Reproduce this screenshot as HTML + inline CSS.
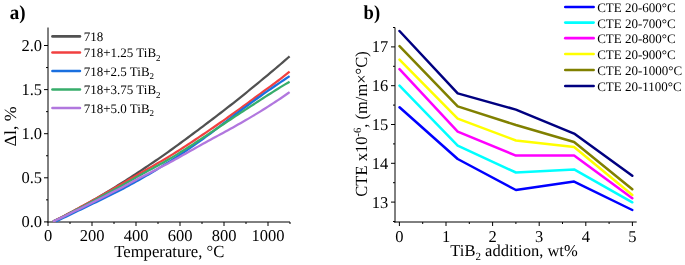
<!DOCTYPE html>
<html><head><meta charset="utf-8"><style>
html,body{margin:0;padding:0;background:#fff;}
body{width:685px;height:265px;overflow:hidden;}
svg{display:block;will-change:transform;}
text{font-family:"Liberation Serif",serif;fill:#000;text-rendering:geometricPrecision;}
.tk{font-size:16.5px;}
.lg{font-size:13.0px;}
.sb{font-size:9px;}
.sb2{font-size:11px;}
.sp{font-size:11px;}
.tt{font-size:17.0px;}
.tt2{font-size:16.5px;}
.tt3{font-size:17px;}
.pl{font-size:20px;font-weight:bold;}
</style></head><body>
<svg width="685" height="265" viewBox="0 0 685 265">
<rect width="685" height="265" fill="#fff"/>
<line x1="48.0" y1="27.5" x2="48.0" y2="222.5" stroke="#000" stroke-width="1"/>
<line x1="47.5" y1="222.0" x2="290.0" y2="222.0" stroke="#000" stroke-width="1"/>
<line x1="44.0" y1="221.90" x2="48.0" y2="221.90" stroke="#000" stroke-width="1"/>
<text transform="translate(42.00,227.40)" text-anchor="end" class="tk">0.0</text>
<line x1="46.0" y1="199.85" x2="48.0" y2="199.85" stroke="#000" stroke-width="1"/>
<line x1="44.0" y1="177.80" x2="48.0" y2="177.80" stroke="#000" stroke-width="1"/>
<text transform="translate(42.00,183.30)" text-anchor="end" class="tk">0.5</text>
<line x1="46.0" y1="155.75" x2="48.0" y2="155.75" stroke="#000" stroke-width="1"/>
<line x1="44.0" y1="133.70" x2="48.0" y2="133.70" stroke="#000" stroke-width="1"/>
<text transform="translate(42.00,139.20)" text-anchor="end" class="tk">1.0</text>
<line x1="46.0" y1="111.65" x2="48.0" y2="111.65" stroke="#000" stroke-width="1"/>
<line x1="44.0" y1="89.60" x2="48.0" y2="89.60" stroke="#000" stroke-width="1"/>
<text transform="translate(42.00,95.10)" text-anchor="end" class="tk">1.5</text>
<line x1="46.0" y1="67.55" x2="48.0" y2="67.55" stroke="#000" stroke-width="1"/>
<line x1="44.0" y1="45.50" x2="48.0" y2="45.50" stroke="#000" stroke-width="1"/>
<text transform="translate(42.00,51.00)" text-anchor="end" class="tk">2.0</text>
<line x1="48.00" y1="222.0" x2="48.00" y2="226.0" stroke="#000" stroke-width="1"/>
<text transform="translate(48.00,241.40)" text-anchor="middle" class="tk">0</text>
<line x1="70.00" y1="222.0" x2="70.00" y2="224.0" stroke="#000" stroke-width="1"/>
<line x1="92.00" y1="222.0" x2="92.00" y2="226.0" stroke="#000" stroke-width="1"/>
<text transform="translate(92.00,241.40)" text-anchor="middle" class="tk">200</text>
<line x1="114.00" y1="222.0" x2="114.00" y2="224.0" stroke="#000" stroke-width="1"/>
<line x1="136.00" y1="222.0" x2="136.00" y2="226.0" stroke="#000" stroke-width="1"/>
<text transform="translate(136.00,241.40)" text-anchor="middle" class="tk">400</text>
<line x1="158.00" y1="222.0" x2="158.00" y2="224.0" stroke="#000" stroke-width="1"/>
<line x1="180.00" y1="222.0" x2="180.00" y2="226.0" stroke="#000" stroke-width="1"/>
<text transform="translate(180.00,241.40)" text-anchor="middle" class="tk">600</text>
<line x1="202.00" y1="222.0" x2="202.00" y2="224.0" stroke="#000" stroke-width="1"/>
<line x1="224.00" y1="222.0" x2="224.00" y2="226.0" stroke="#000" stroke-width="1"/>
<text transform="translate(224.00,241.40)" text-anchor="middle" class="tk">800</text>
<line x1="246.00" y1="222.0" x2="246.00" y2="224.0" stroke="#000" stroke-width="1"/>
<line x1="268.00" y1="222.0" x2="268.00" y2="226.0" stroke="#000" stroke-width="1"/>
<text transform="translate(268.00,241.40)" text-anchor="middle" class="tk">1000</text>
<line x1="290.00" y1="222.0" x2="290.00" y2="224.0" stroke="#000" stroke-width="1"/>
<polyline points="53.0,221.50 55.5,220.32 58.0,219.13 60.5,217.90 63.0,216.64 65.5,215.35 68.0,214.04 70.5,212.71 73.0,211.37 75.5,210.03 78.0,208.68 80.5,207.32 83.0,205.95 85.5,204.56 88.0,203.16 90.5,201.74 93.0,200.32 95.5,198.87 98.0,197.42 100.5,195.95 103.0,194.46 105.5,192.97 108.0,191.46 110.5,189.94 113.0,188.40 115.5,186.86 118.0,185.30 120.5,183.74 123.0,182.16 125.5,180.58 128.0,178.98 130.5,177.38 133.0,175.77 135.5,174.14 138.0,172.51 140.5,170.87 143.0,169.21 145.5,167.55 148.0,165.88 150.5,164.19 153.0,162.50 155.5,160.79 158.0,159.07 160.5,157.33 163.0,155.59 165.5,153.83 168.0,152.06 170.5,150.27 173.0,148.48 175.5,146.67 178.0,144.85 180.5,143.02 183.0,141.19 185.5,139.34 188.0,137.49 190.5,135.64 193.0,133.77 195.5,131.91 198.0,130.04 200.5,128.16 203.0,126.28 205.5,124.40 208.0,122.52 210.5,120.63 213.0,118.73 215.5,116.83 218.0,114.92 220.5,113.00 223.0,111.08 225.5,109.15 228.0,107.20 230.5,105.25 233.0,103.28 235.5,101.30 238.0,99.31 240.5,97.31 243.0,95.30 245.5,93.28 248.0,91.25 250.5,89.21 253.0,87.17 255.5,85.11 258.0,83.06 260.5,81.00 263.0,78.93 265.5,76.86 268.0,74.79 270.5,72.70 273.0,70.61 275.5,68.50 278.0,66.39 280.5,64.25 283.0,62.10 285.5,59.92 288.0,57.73 289.6,56.32" fill="none" stroke="#515151" stroke-width="2.25" stroke-linejoin="round"/>
<polyline points="53.0,221.51 55.5,220.29 58.0,219.05 60.5,217.80 63.0,216.51 65.5,215.18 68.0,213.84 70.5,212.48 73.0,211.13 75.5,209.79 78.0,208.45 80.5,207.10 83.0,205.75 85.5,204.39 88.0,203.03 90.5,201.66 93.0,200.28 95.5,198.90 98.0,197.50 100.5,196.10 103.0,194.69 105.5,193.27 108.0,191.85 110.5,190.42 113.0,188.98 115.5,187.54 118.0,186.09 120.5,184.64 123.0,183.18 125.5,181.72 128.0,180.27 130.5,178.81 133.0,177.36 135.5,175.91 138.0,174.47 140.5,173.04 143.0,171.62 145.5,170.20 148.0,168.79 150.5,167.37 153.0,165.95 155.5,164.53 158.0,163.09 160.5,161.64 163.0,160.18 165.5,158.69 168.0,157.19 170.5,155.66 173.0,154.11 175.5,152.55 178.0,150.97 180.5,149.37 183.0,147.76 185.5,146.13 188.0,144.49 190.5,142.85 193.0,141.19 195.5,139.53 198.0,137.85 200.5,136.18 203.0,134.49 205.5,132.81 208.0,131.11 210.5,129.41 213.0,127.71 215.5,125.99 218.0,124.27 220.5,122.54 223.0,120.80 225.5,119.05 228.0,117.29 230.5,115.51 233.0,113.73 235.5,111.93 238.0,110.13 240.5,108.31 243.0,106.48 245.5,104.65 248.0,102.81 250.5,100.97 253.0,99.12 255.5,97.28 258.0,95.44 260.5,93.61 263.0,91.78 265.5,89.96 268.0,88.14 270.5,86.31 273.0,84.47 275.5,82.62 278.0,80.74 280.5,78.84 283.0,76.90 285.5,74.93 288.0,72.92 289.6,71.62" fill="none" stroke="#F14040" stroke-width="2.25" stroke-linejoin="round"/>
<polyline points="56.0,221.50 58.5,220.28 61.0,219.06 63.5,217.84 66.0,216.62 68.5,215.40 71.0,214.19 73.5,212.98 76.0,211.78 78.5,210.57 81.0,209.37 83.5,208.17 86.0,206.97 88.5,205.77 91.0,204.56 93.5,203.35 96.0,202.14 98.5,200.93 101.0,199.71 103.5,198.49 106.0,197.27 108.5,196.03 111.0,194.79 113.5,193.54 116.0,192.27 118.5,190.99 121.0,189.70 123.5,188.39 126.0,187.06 128.5,185.72 131.0,184.36 133.5,182.98 136.0,181.59 138.5,180.19 141.0,178.77 143.5,177.33 146.0,175.88 148.5,174.41 151.0,172.93 153.5,171.44 156.0,169.93 158.5,168.41 161.0,166.87 163.5,165.33 166.0,163.77 168.5,162.20 171.0,160.62 173.5,159.03 176.0,157.42 178.5,155.79 181.0,154.15 183.5,152.49 186.0,150.82 188.5,149.12 191.0,147.41 193.5,145.68 196.0,143.92 198.5,142.15 201.0,140.35 203.5,138.53 206.0,136.70 208.5,134.84 211.0,132.98 213.5,131.10 216.0,129.20 218.5,127.31 221.0,125.40 223.5,123.49 226.0,121.59 228.5,119.68 231.0,117.78 233.5,115.88 236.0,113.99 238.5,112.12 241.0,110.25 243.5,108.39 246.0,106.55 248.5,104.72 251.0,102.89 253.5,101.08 256.0,99.28 258.5,97.49 261.0,95.71 263.5,93.95 266.0,92.19 268.5,90.45 271.0,88.72 273.5,87.00 276.0,85.29 278.5,83.58 281.0,81.89 283.5,80.21 286.0,78.53 288.5,76.87 289.6,76.15" fill="none" stroke="#1A6FDF" stroke-width="2.25" stroke-linejoin="round"/>
<polyline points="53.0,221.51 55.5,220.35 58.0,219.17 60.5,217.98 63.0,216.73 65.5,215.46 68.0,214.16 70.5,212.87 73.0,211.61 75.5,210.36 78.0,209.12 80.5,207.85 83.0,206.55 85.5,205.22 88.0,203.86 90.5,202.49 93.0,201.12 95.5,199.74 98.0,198.36 100.5,197.00 103.0,195.66 105.5,194.33 108.0,193.01 110.5,191.68 113.0,190.35 115.5,189.02 118.0,187.67 120.5,186.29 123.0,184.90 125.5,183.49 128.0,182.06 130.5,180.63 133.0,179.20 135.5,177.77 138.0,176.36 140.5,174.96 143.0,173.58 145.5,172.21 148.0,170.86 150.5,169.51 153.0,168.17 155.5,166.81 158.0,165.46 160.5,164.08 163.0,162.69 165.5,161.28 168.0,159.84 170.5,158.38 173.0,156.89 175.5,155.38 178.0,153.85 180.5,152.30 183.0,150.73 185.5,149.15 188.0,147.55 190.5,145.94 193.0,144.32 195.5,142.69 198.0,141.05 200.5,139.40 203.0,137.75 205.5,136.10 208.0,134.44 210.5,132.77 213.0,131.11 215.5,129.44 218.0,127.78 220.5,126.11 223.0,124.44 225.5,122.78 228.0,121.12 230.5,119.46 233.0,117.80 235.5,116.15 238.0,114.51 240.5,112.87 243.0,111.23 245.5,109.60 248.0,107.97 250.5,106.35 253.0,104.73 255.5,103.11 258.0,101.49 260.5,99.87 263.0,98.25 265.5,96.64 268.0,95.03 270.5,93.43 273.0,91.84 275.5,90.26 278.0,88.70 280.5,87.15 283.0,85.63 285.5,84.13 288.0,82.66 289.6,81.73" fill="none" stroke="#37AD6B" stroke-width="2.25" stroke-linejoin="round"/>
<polyline points="53.0,221.50 55.5,220.40 58.0,219.29 60.5,218.14 63.0,216.97 65.5,215.76 68.0,214.53 70.5,213.29 73.0,212.07 75.5,210.86 78.0,209.64 80.5,208.42 83.0,207.19 85.5,205.95 88.0,204.70 90.5,203.44 93.0,202.18 95.5,200.92 98.0,199.65 100.5,198.39 103.0,197.14 105.5,195.88 108.0,194.63 110.5,193.36 113.0,192.10 115.5,190.82 118.0,189.53 120.5,188.22 123.0,186.90 125.5,185.56 128.0,184.22 130.5,182.87 133.0,181.53 135.5,180.19 138.0,178.86 140.5,177.55 143.0,176.25 145.5,174.97 148.0,173.70 150.5,172.43 153.0,171.16 155.5,169.90 158.0,168.63 160.5,167.34 163.0,166.05 165.5,164.73 168.0,163.40 170.5,162.05 173.0,160.68 175.5,159.30 178.0,157.90 180.5,156.50 183.0,155.09 185.5,153.68 188.0,152.26 190.5,150.85 193.0,149.43 195.5,148.02 198.0,146.61 200.5,145.22 203.0,143.83 205.5,142.45 208.0,141.08 210.5,139.71 213.0,138.34 215.5,136.98 218.0,135.62 220.5,134.26 223.0,132.90 225.5,131.53 228.0,130.16 230.5,128.78 233.0,127.40 235.5,126.00 238.0,124.60 240.5,123.18 243.0,121.75 245.5,120.31 248.0,118.85 250.5,117.38 253.0,115.90 255.5,114.40 258.0,112.88 260.5,111.35 263.0,109.81 265.5,108.24 268.0,106.66 270.5,105.06 273.0,103.43 275.5,101.79 278.0,100.13 280.5,98.45 283.0,96.74 285.5,95.02 288.0,93.27 289.6,92.14" fill="none" stroke="#B177DE" stroke-width="2.25" stroke-linejoin="round"/>
<line x1="52.5" y1="36.4" x2="79.9" y2="36.4" stroke="#515151" stroke-width="2.7" stroke-linecap="round"/>
<text transform="translate(83.70,41.00)" class="lg">718</text>
<line x1="52.5" y1="52.5" x2="79.9" y2="52.5" stroke="#F14040" stroke-width="2.7" stroke-linecap="round"/>
<text transform="translate(83.70,57.10)" class="lg">718+1.25 TiB<tspan dy="3.5" class="sb">2</tspan></text>
<line x1="52.5" y1="71.0" x2="79.9" y2="71.0" stroke="#1A6FDF" stroke-width="2.7" stroke-linecap="round"/>
<text transform="translate(83.70,75.60)" class="lg">718+2.5 TiB<tspan dy="3.5" class="sb">2</tspan></text>
<line x1="52.5" y1="89.5" x2="79.9" y2="89.5" stroke="#37AD6B" stroke-width="2.7" stroke-linecap="round"/>
<text transform="translate(83.70,94.10)" class="lg">718+3.75 TiB<tspan dy="3.5" class="sb">2</tspan></text>
<line x1="52.5" y1="108.0" x2="79.9" y2="108.0" stroke="#B177DE" stroke-width="2.7" stroke-linecap="round"/>
<text transform="translate(83.70,112.60)" class="lg">718+5.0 TiB<tspan dy="3.5" class="sb">2</tspan></text>
<text transform="translate(9.80,19.20) scale(0.95,1.0)" class="pl">a)</text>
<text transform="translate(169.30,257.30) scale(0.981,1.0)" text-anchor="middle" class="tt">Temperature, °C</text>
<text transform="translate(15.60,126.40) rotate(-90) scale(1.05,1.0)" text-anchor="middle" class="tt">Δl, %</text>
<line x1="395.0" y1="27.5" x2="395.0" y2="222.5" stroke="#000" stroke-width="1"/>
<line x1="394.0" y1="222.0" x2="636.7" y2="222.0" stroke="#000" stroke-width="1"/>
<line x1="393.0" y1="221.50" x2="395.0" y2="221.50" stroke="#000" stroke-width="1"/>
<line x1="391.0" y1="202.10" x2="395.0" y2="202.10" stroke="#000" stroke-width="1"/>
<text transform="translate(388.30,207.60)" text-anchor="end" class="tk">13</text>
<line x1="393.0" y1="182.70" x2="395.0" y2="182.70" stroke="#000" stroke-width="1"/>
<line x1="391.0" y1="163.30" x2="395.0" y2="163.30" stroke="#000" stroke-width="1"/>
<text transform="translate(388.30,168.80)" text-anchor="end" class="tk">14</text>
<line x1="393.0" y1="143.90" x2="395.0" y2="143.90" stroke="#000" stroke-width="1"/>
<line x1="391.0" y1="124.50" x2="395.0" y2="124.50" stroke="#000" stroke-width="1"/>
<text transform="translate(388.30,130.00)" text-anchor="end" class="tk">15</text>
<line x1="393.0" y1="105.10" x2="395.0" y2="105.10" stroke="#000" stroke-width="1"/>
<line x1="391.0" y1="85.70" x2="395.0" y2="85.70" stroke="#000" stroke-width="1"/>
<text transform="translate(388.30,91.20)" text-anchor="end" class="tk">16</text>
<line x1="393.0" y1="66.30" x2="395.0" y2="66.30" stroke="#000" stroke-width="1"/>
<line x1="391.0" y1="46.90" x2="395.0" y2="46.90" stroke="#000" stroke-width="1"/>
<text transform="translate(388.30,52.40)" text-anchor="end" class="tk">17</text>
<line x1="393.0" y1="27.50" x2="395.0" y2="27.50" stroke="#000" stroke-width="1"/>
<line x1="399.40" y1="222.0" x2="399.40" y2="226.0" stroke="#000" stroke-width="1"/>
<text transform="translate(399.40,241.50)" text-anchor="middle" class="tk">0</text>
<line x1="422.70" y1="222.0" x2="422.70" y2="224.0" stroke="#000" stroke-width="1"/>
<line x1="446.00" y1="222.0" x2="446.00" y2="226.0" stroke="#000" stroke-width="1"/>
<text transform="translate(446.00,241.50)" text-anchor="middle" class="tk">1</text>
<line x1="469.30" y1="222.0" x2="469.30" y2="224.0" stroke="#000" stroke-width="1"/>
<line x1="492.60" y1="222.0" x2="492.60" y2="226.0" stroke="#000" stroke-width="1"/>
<text transform="translate(492.60,241.50)" text-anchor="middle" class="tk">2</text>
<line x1="515.90" y1="222.0" x2="515.90" y2="224.0" stroke="#000" stroke-width="1"/>
<line x1="539.20" y1="222.0" x2="539.20" y2="226.0" stroke="#000" stroke-width="1"/>
<text transform="translate(539.20,241.50)" text-anchor="middle" class="tk">3</text>
<line x1="562.50" y1="222.0" x2="562.50" y2="224.0" stroke="#000" stroke-width="1"/>
<line x1="585.80" y1="222.0" x2="585.80" y2="226.0" stroke="#000" stroke-width="1"/>
<text transform="translate(585.80,241.50)" text-anchor="middle" class="tk">4</text>
<line x1="609.10" y1="222.0" x2="609.10" y2="224.0" stroke="#000" stroke-width="1"/>
<line x1="632.40" y1="222.0" x2="632.40" y2="226.0" stroke="#000" stroke-width="1"/>
<text transform="translate(632.40,241.50)" text-anchor="middle" class="tk">5</text>
<polyline points="399.5,107.3 457.7,159 515.9,190 574.1,181.6 632.3,210.0" fill="none" stroke="#0000FF" stroke-width="2.5" stroke-linejoin="round" stroke-linecap="round"/>
<polyline points="399.5,85.6 457.7,145.6 515.9,172.5 574.1,169.4 632.3,202.3" fill="none" stroke="#00FFFF" stroke-width="2.5" stroke-linejoin="round" stroke-linecap="round"/>
<polyline points="399.5,69.2 457.7,131.6 515.9,155.6 574.1,155.6 632.3,198.2" fill="none" stroke="#FF00FF" stroke-width="2.5" stroke-linejoin="round" stroke-linecap="round"/>
<polyline points="399.5,59.6 457.7,118.6 515.9,140.5 574.1,147 632.3,195.0" fill="none" stroke="#FFFF00" stroke-width="2.5" stroke-linejoin="round" stroke-linecap="round"/>
<polyline points="399.5,46.1 457.7,106.4 515.9,125 574.1,142 632.3,189.3" fill="none" stroke="#808000" stroke-width="2.5" stroke-linejoin="round" stroke-linecap="round"/>
<polyline points="399.5,31.0 457.7,93.4 515.9,109.6 574.1,133.6 632.3,175.8" fill="none" stroke="#000080" stroke-width="2.5" stroke-linejoin="round" stroke-linecap="round"/>
<line x1="565.3" y1="7.0" x2="593.6" y2="7.0" stroke="#0000FF" stroke-width="2.7" stroke-linecap="round"/>
<text transform="translate(597.20,11.90)" class="lg">CTE 20-600°C</text>
<line x1="565.3" y1="22.6" x2="593.6" y2="22.6" stroke="#00FFFF" stroke-width="2.7" stroke-linecap="round"/>
<text transform="translate(597.20,27.50)" class="lg">CTE 20-700°C</text>
<line x1="565.3" y1="38.2" x2="593.6" y2="38.2" stroke="#FF00FF" stroke-width="2.7" stroke-linecap="round"/>
<text transform="translate(597.20,43.10)" class="lg">CTE 20-800°C</text>
<line x1="565.3" y1="54.0" x2="593.6" y2="54.0" stroke="#FFFF00" stroke-width="2.7" stroke-linecap="round"/>
<text transform="translate(597.20,58.90)" class="lg">CTE 20-900°C</text>
<line x1="565.3" y1="70.0" x2="593.6" y2="70.0" stroke="#808000" stroke-width="2.7" stroke-linecap="round"/>
<text transform="translate(597.20,74.90)" class="lg">CTE 20-1000°C</text>
<line x1="565.3" y1="86.0" x2="593.6" y2="86.0" stroke="#000080" stroke-width="2.7" stroke-linecap="round"/>
<text transform="translate(597.20,90.90)" class="lg">CTE 20-1100°C</text>
<text transform="translate(363.60,19.20) scale(0.93,1.0)" class="pl">b)</text>
<text transform="translate(514.00,255.70)" text-anchor="middle" class="tt2">TiB<tspan dy="4" class="sb2">2</tspan><tspan dy="-4"> addition, wt%</tspan></text>
<text transform="translate(367.20,124.00) rotate(-90) scale(0.97,1.0)" text-anchor="middle" class="tt3">CTE x10<tspan dy="-6" class="sp">-6</tspan><tspan dy="6">, (m/m×°C)</tspan></text>
</svg>
</body></html>
